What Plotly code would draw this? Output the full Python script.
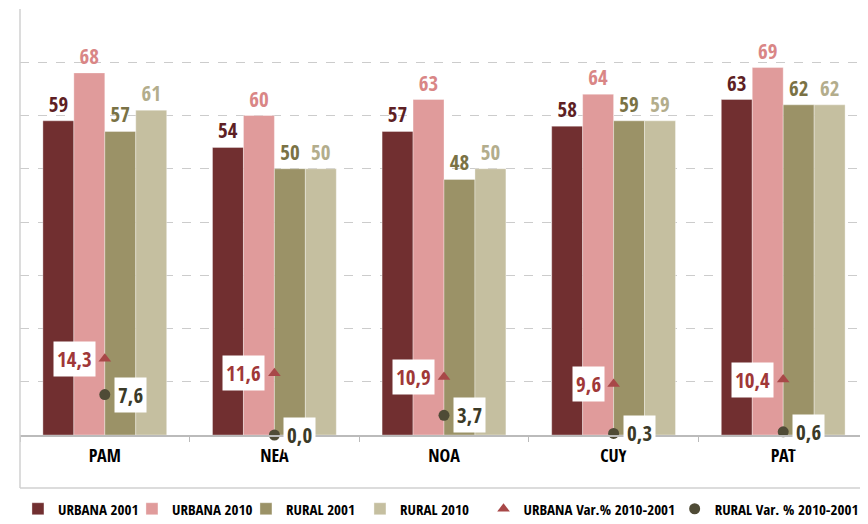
import plotly.graph_objects as go

regions = ["PAM", "NEA", "NOA", "CUY", "PAT"]
urbana_2001 = [59, 54, 57, 58, 63]
urbana_2010 = [68, 60, 63, 64, 69]
rural_2001 = [57, 50, 48, 59, 62]
rural_2010 = [61, 50, 50, 59, 62]
urbana_var = [14.3, 11.6, 10.9, 9.6, 10.4]
rural_var = [7.6, 0.0, 3.7, 0.3, 0.6]

FONT = "Open Sans Condensed"

bar_series = [
    ("URBANA 2001", urbana_2001, "#712F30", "#5E1F24"),
    ("URBANA 2010", urbana_2010, "#E09B9B", "#D98686"),
    ("RURAL 2001", rural_2001, "#9B9267", "#7A7245"),
    ("RURAL 2010", rural_2010, "#C5BFA0", "#B3AD8C"),
]

fig = go.Figure()
for name, vals, col, lcol in bar_series:
    fig.add_trace(go.Bar(
        x=regions, y=vals, name=name,
        marker=dict(color=col, line=dict(color="rgba(255,255,255,0.35)", width=1)),
        text=[str(v) for v in vals], textposition="outside",
        textfont=dict(family=FONT, size=21, color=lcol, weight="bold"),
        constraintext="none", cliponaxis=False, legend="legend",
    ))

fig.add_trace(go.Scatter(
    x=regions, y=urbana_var, mode="markers", name="URBANA Var.% 2010-2001",
    marker=dict(symbol="triangle-up", size=11, color="#A84848"),
    cliponaxis=False, legend="legend3",
))
fig.add_trace(go.Scatter(
    x=regions, y=rural_var, mode="markers", name="RURAL Var. % 2010-2001",
    marker=dict(symbol="circle", size=11, color="#4F4B36"),
    cliponaxis=False, legend="legend2",
))

def fmt(v):
    return f"{v:.1f}".replace(".", ",")

annotations = []
for r, v in zip(regions, urbana_var):
    annotations.append(dict(
        x=r, y=v, xref="x", yref="y", text=fmt(v), showarrow=False,
        xanchor="right", xshift=-9, bgcolor="white", borderpad=3,
        font=dict(family=FONT, size=21, color="#A03838", weight="bold"),
    ))
for r, v in zip(regions, rural_var):
    annotations.append(dict(
        x=r, y=v, xref="x", yref="y", text=fmt(v), showarrow=False,
        xanchor="left", xshift=9, bgcolor="white", borderpad=3,
        font=dict(family=FONT, size=21, color="#3B3A28", weight="bold"),
    ))

legend_font = dict(family=FONT, size=15, color="black", weight="bold")
legend_common = dict(orientation="h", xanchor="left", y=-0.135, yanchor="top", font=legend_font)

fig.update_layout(
    width=860, height=516,
    margin=dict(l=12, r=0, t=1, b=89, autoexpand=False),
    paper_bgcolor="white", plot_bgcolor="white",
    barmode="group", bargap=0.27, bargroupgap=0,
    font=dict(family=FONT, color="black", weight="bold"),
    showlegend=True,
    legend=dict(x=-0.0024, traceorder="normal", entrywidth=69, entrywidthmode="pixels", **legend_common),
    legend3=dict(x=0.5466, **legend_common),
    legend2=dict(x=0.772, **legend_common),
    annotations=annotations,
    shapes=[
        dict(type="line", xref="paper", yref="paper", x0=0, x1=0, y0=-0.1244, y1=1,
             line=dict(color="#D0D0D0", width=1.5)),
        dict(type="line", xref="paper", yref="paper", x0=0, x1=1, y0=-0.1244, y1=-0.1244,
             line=dict(color="#D0D0D0", width=1.5)),
    ],
)
fig.update_xaxes(
    showline=True, linecolor="#BBBBBB", linewidth=2,
    ticks="outside", ticklen=5, tickcolor="#BBBBBB", tickson="boundaries",
    tickfont=dict(family=FONT, size=18, color="black", weight="bold"),
    ticklabelstandoff=3,
    showgrid=False, automargin=False,
)
fig.update_yaxes(
    range=[0, 80], dtick=10, showticklabels=False,
    showgrid=True, gridcolor="#CCCCCC", griddash="dash", gridwidth=1,
    zeroline=False, automargin=False,
)
fig.write_html("out.html")
